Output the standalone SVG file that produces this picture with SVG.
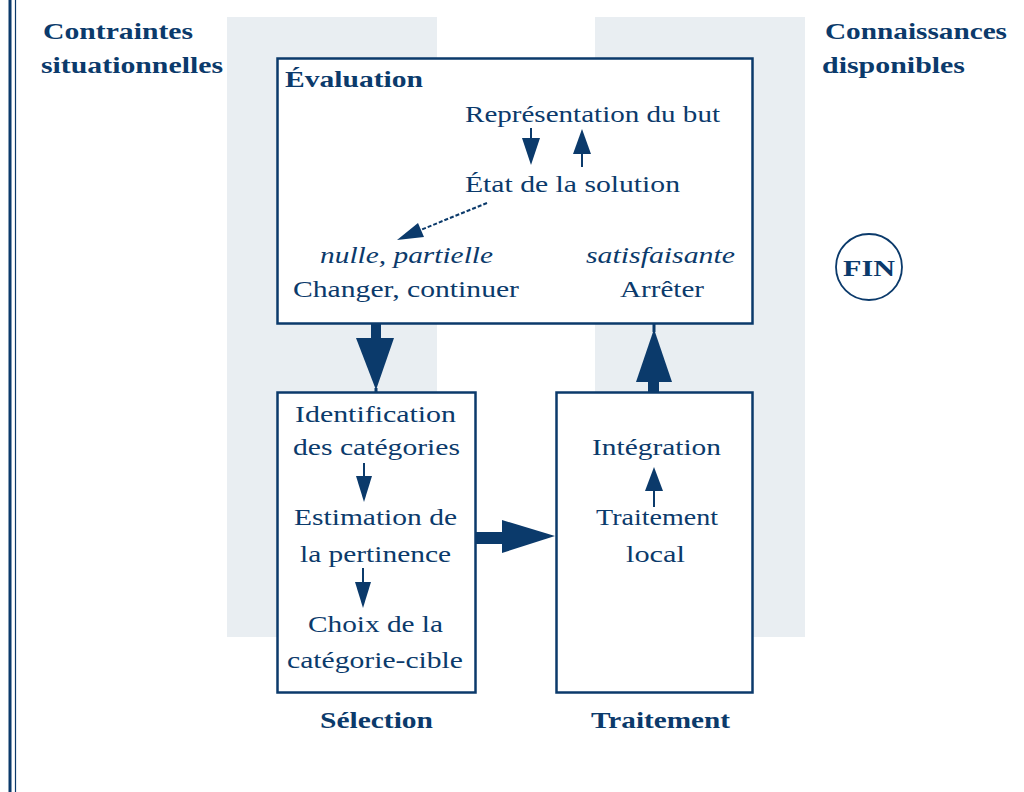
<svg xmlns="http://www.w3.org/2000/svg" width="1024" height="792" viewBox="0 0 1024 792">
<style>
  .t { font-family: "Liberation Serif", "Times New Roman", serif; font-size: 23px; fill: #0b3a6b; }
  .b { font-family: "Liberation Serif", "Times New Roman", serif; font-size: 24px; font-weight: bold; fill: #0b3a6b; }
  .i { font-style: italic; }
  .box { fill: #ffffff; stroke: #0b3a6b; stroke-width: 2.5; }
  .panel { fill: #e9eef2; }
  .ah { fill: #0b3a6b; }
  .sh { stroke: #0b3a6b; fill: none; }
</style>
<rect x="0" y="0" width="1024" height="792" fill="#ffffff"/>
<g id="frame">
  <line x1="10" y1="0" x2="10" y2="792" stroke="#0b3a6b" stroke-width="3"/>
  <line x1="15.5" y1="0" x2="15.5" y2="792" stroke="#0b3a6b" stroke-width="1.2"/>
</g>
<g id="panels">
  <rect class="panel" x="227" y="17" width="210" height="620"/>
  <rect class="panel" x="595" y="17" width="210" height="620"/>
</g>
<g id="titles">
  <text class="b" x="43" y="39" textLength="150" lengthAdjust="spacingAndGlyphs">Contraintes</text>
  <text class="b" x="41" y="73" textLength="182" lengthAdjust="spacingAndGlyphs">situationnelles</text>
  <text class="b" x="825" y="39" textLength="182" lengthAdjust="spacingAndGlyphs">Connaissances</text>
  <text class="b" x="822" y="73" textLength="143" lengthAdjust="spacingAndGlyphs">disponibles</text>
</g>
<g id="evaluation">
  <rect class="box" x="277.5" y="58.5" width="475" height="265"/>
  <text class="b" x="285" y="87" textLength="138" lengthAdjust="spacingAndGlyphs">Évaluation</text>
  <text class="t" x="465" y="122" textLength="255" lengthAdjust="spacingAndGlyphs">Représentation du but</text>
  <text class="t" x="465" y="192" textLength="215" lengthAdjust="spacingAndGlyphs">État de la solution</text>
  <text class="t i" x="320" y="263" textLength="173" lengthAdjust="spacingAndGlyphs">nulle, partielle</text>
  <text class="t" x="293" y="297" textLength="226" lengthAdjust="spacingAndGlyphs">Changer, continuer</text>
  <text class="t i" x="586" y="263" textLength="149" lengthAdjust="spacingAndGlyphs">satisfaisante</text>
  <text class="t" x="620" y="297" textLength="84" lengthAdjust="spacingAndGlyphs">Arrêter</text>
</g>
<g id="selection">
  <rect class="box" x="277.5" y="392.5" width="198" height="300"/>
  <text class="t" x="295" y="422" textLength="161" lengthAdjust="spacingAndGlyphs">Identification</text>
  <text class="t" x="293" y="455" textLength="167" lengthAdjust="spacingAndGlyphs">des catégories</text>
  <text class="t" x="294" y="525" textLength="163" lengthAdjust="spacingAndGlyphs">Estimation de</text>
  <text class="t" x="300" y="562" textLength="151" lengthAdjust="spacingAndGlyphs">la pertinence</text>
  <text class="t" x="308" y="632" textLength="135" lengthAdjust="spacingAndGlyphs">Choix de la</text>
  <text class="t" x="287" y="668" textLength="176" lengthAdjust="spacingAndGlyphs">catégorie-cible</text>
  <text class="b" x="320" y="728" textLength="113" lengthAdjust="spacingAndGlyphs">Sélection</text>
</g>
<g id="traitement">
  <rect class="box" x="556.5" y="392.5" width="196" height="300"/>
  <text class="t" x="592" y="455" textLength="129" lengthAdjust="spacingAndGlyphs">Intégration</text>
  <text class="t" x="596" y="525" textLength="122" lengthAdjust="spacingAndGlyphs">Traitement</text>
  <text class="t" x="626" y="562" textLength="59" lengthAdjust="spacingAndGlyphs">local</text>
  <text class="b" x="591" y="728" textLength="139" lengthAdjust="spacingAndGlyphs">Traitement</text>
</g>
<g id="fin">
  <circle cx="869" cy="267" r="33" fill="#ffffff" stroke="#0b3a6b" stroke-width="1.8"/>
  <text class="b" x="843" y="276" textLength="52" lengthAdjust="spacingAndGlyphs">FIN</text>
</g>
<g id="connectors">
  <line class="sh" x1="531" y1="128" x2="531" y2="140" stroke-width="2"/>
  <polygon class="ah" points="522,138 540,138 531,165"/>
  <polygon class="ah" points="582,129 573,154 591,154"/>
  <line class="sh" x1="582" y1="152" x2="582" y2="167" stroke-width="2"/>
  <line class="sh" x1="487" y1="203" x2="418" y2="231" stroke-width="2" stroke-dasharray="4,2"/>
  <polygon class="ah" points="397,240 418,223 424,237"/>
  <rect class="ah" x="371" y="323" width="10" height="17"/>
  <polygon class="ah" points="356,338 394,338 376,390"/>
  <line class="sh" x1="376" y1="388" x2="376" y2="393" stroke-width="3"/>
  <rect class="ah" x="475" y="532" width="29" height="12"/>
  <polygon class="ah" points="502,520 502,553 555,536"/>
  <rect class="ah" x="648" y="380" width="11" height="13"/>
  <polygon class="ah" points="654,329 636,382 672,382"/>
  <line class="sh" x1="654" y1="323" x2="654" y2="332" stroke-width="3"/>
  <line class="sh" x1="364" y1="463" x2="364" y2="478" stroke-width="2"/>
  <polygon class="ah" points="356,476 372,476 364,502"/>
  <line class="sh" x1="363" y1="568" x2="363" y2="584" stroke-width="2"/>
  <polygon class="ah" points="355,582 371,582 363,608"/>
  <polygon class="ah" points="654,467 645,491 663,491"/>
  <line class="sh" x1="654" y1="489" x2="654" y2="507" stroke-width="2"/>
</g>
</svg>
